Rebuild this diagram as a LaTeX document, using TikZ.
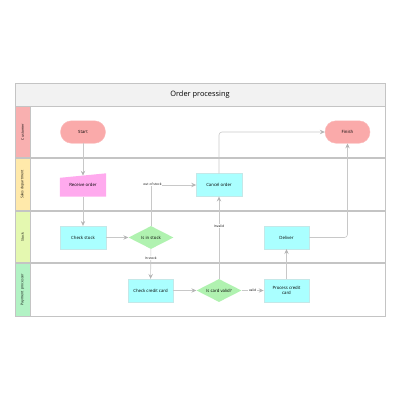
\documentclass[tikz,border=0pt]{standalone}
\usepackage{fontspec}
\setmainfont{Open Sans}
\usetikzlibrary{shapes.geometric,arrows.meta}
\pgfdeclarelayer{bg}
\pgfsetlayers{bg,main}
\definecolor{frameg}{HTML}{C4C4C4}
\definecolor{lineg}{HTML}{C8C8C8}
\definecolor{arrg}{HTML}{B4B4B4}
\definecolor{custc}{HTML}{F9B0B0}
\definecolor{salesc}{HTML}{FFE9AA}
\definecolor{stockc}{HTML}{E4F8B0}
\definecolor{payc}{HTML}{B2F2C4}
\definecolor{termc}{HTML}{FAAAAA}
\definecolor{inputc}{HTML}{FFAAEE}
\definecolor{procc}{HTML}{AAFFFF}
\definecolor{decc}{HTML}{B0F2B0}
\definecolor{headc}{HTML}{F2F2F2}
\tikzset{
  x=1pt,y=-1pt,
  nodetext/.style={font=\fontsize{4.3}{5.1}\selectfont, align=center, inner sep=0pt},
  termbox/.style={nodetext, rectangle, rounded corners=11pt, fill=termc, draw=termc!80!white, minimum width=45pt, minimum height=22.5pt},
  procbox/.style={nodetext, rectangle, fill=procc, draw=procc!70!gray!60, line width=0.3pt, minimum width=45.5pt, minimum height=23pt},
  decbox/.style={nodetext, diamond, aspect=1.9, fill=decc, draw=none, minimum width=45pt, minimum height=23pt},
  inbox/.style={nodetext, rectangle, minimum width=46pt, minimum height=23pt},
  edgelbl/.style={font=\fontsize{3.3}{4}\selectfont, fill=white, inner sep=0.6pt},
  lanelbl/.style={font=\fontsize{3.5}{4}\selectfont, rotate=90, inner sep=0pt},
  flow/.style={draw=lineg, line width=0.6pt, -{Stealth[length=5pt,width=4.5pt,inset=2pt,fill=arrg,color=arrg]}},
  flowr/.style={flow, rounded corners=3pt}
}
\begin{document}
\begin{tikzpicture}
\useasboundingbox (0,0) rectangle (400,400);
% lanes
\fill[headc] (15,83) rectangle (385,106);
\fill[custc] (15,106) rectangle (30,158);
\fill[salesc] (15,158) rectangle (30,211);
\fill[stockc] (15,211) rectangle (30,263);
\fill[payc] (15,263) rectangle (30,316);
\draw[frameg, line width=0.7pt] (15,83) rectangle (385,316);
\draw[frameg, line width=0.7pt] (15,106) -- (385,106);
\draw[frameg, line width=1.3pt] (15,158) -- (385,158);
\draw[frameg, line width=1.3pt] (15,211) -- (385,211);
\draw[frameg, line width=1.3pt] (15,263) -- (385,263);
\draw[frameg, line width=0.5pt] (30,106) -- (30,316);
\node[font=\fontsize{7.4}{9}\selectfont] (title) at (200,95) {Order processing};
\node[lanelbl] (lcust) at (22.5,132) {Customer};
\node[lanelbl] (lsales) at (22.5,184.5) {Sales department};
\node[lanelbl] (lstock) at (22.5,237) {Stock};
\node[lanelbl] (lpay) at (22.5,289.5) {Payment processor};
% nodes
\node[termbox] (start) at (83,132) {Start};
\node[termbox] (fin) at (347.5,132) {Finish};
\node[inbox] (ro) at (83,185) {Receive order};
\begin{pgfonlayer}{bg}
\fill[inputc] (ro.south west) -- (ro.south east) -- (ro.north east) -- ([yshift=-4.5pt]ro.north west) -- cycle;
\end{pgfonlayer}
\coordinate (rotop) at ([yshift=-2.3pt]ro.north);
\node[procbox] (co) at (219,185) {Cancel order};
\node[procbox] (cs) at (83,237.5) {Check stock};
\node[decbox] (iis) at (151,237.5) {Is in stock};
\node[procbox] (ccc) at (150.5,290.5) {Check credit card};
\node[decbox] (icv) at (219,290.5) {Is card valid?};
\node[procbox] (pcc) at (286.5,290.5) {Process credit\\card};
\node[procbox] (dl) at (286.5,237.5) {Deliver};
% edges
\draw[flow] (start) -- (rotop);
\draw[flow] (ro) -- (cs);
\draw[flow] (cs) -- (iis);
\draw[flow] (iis) -- node[edgelbl, pos=0.3] (lin) {In stock} (ccc);
\draw[flow] (iis.north) -- (iis.north |- co.west) -- (co.west);
\node[edgelbl] (lout) at (152.5,184.5) {out of stock};
\draw[flow] (ccc) -- (icv);
\draw[flow] (icv) -- node[edgelbl, pos=0.5] (lval) {valid} (pcc);
\draw[flow] (icv.north) -- node[edgelbl, pos=0.64] (linv) {Invalid} (co.south);
\draw[flow] (pcc) -- (dl);
\draw[flowr] (co.north) -- (co.north |- fin.west) -- (fin.west);
\draw[flowr] (dl.east) -- (dl.east -| fin.south) -- (fin.south);
\end{tikzpicture}
\end{document}
